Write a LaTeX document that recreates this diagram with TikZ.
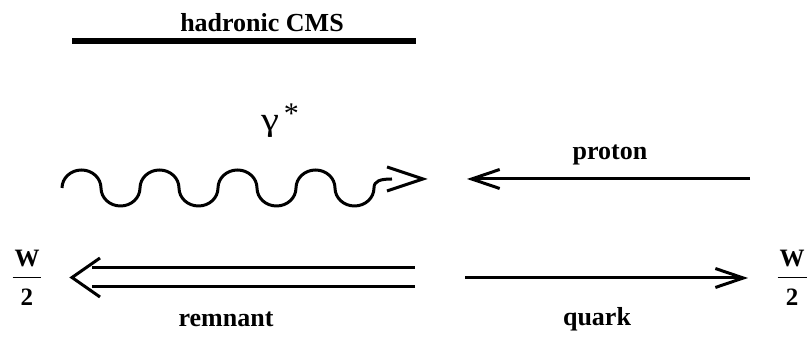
\documentclass[tikz,border=0pt]{standalone}
\usepackage{amsmath}
\usepackage{fontspec}
\setmainfont{Liberation Serif}
\usetikzlibrary{arrows.meta, positioning}

\newcommand{\halfW}{$\dfrac{\makebox[14.5pt]{\bfseries W}}{\rule{0pt}{12.3pt}\mbox{\bfseries 2}}$}

\begin{document}
\begin{tikzpicture}[x=0.5pt, y=-0.5pt,
  lbl/.style={font=\fontsize{13}{15}\selectfont\bfseries, inner sep=0pt, anchor=base},
  gam/.style={font=\fontsize{15}{17}\selectfont, inner sep=0pt, anchor=base},
  frc/.style={font=\fontsize{12.5}{14}\selectfont, inner sep=0pt, anchor=base},
  prt/.style={line width=1.5pt, draw=black},
  arr/.style={prt, -{Straight Barb[length=14pt, width=9.5pt]}},
  dbl/.style={prt, double, double distance=8pt}
]
  \useasboundingbox (0,0) rectangle (808,340);

  % ========== hadronic CMS ==========
  \node[lbl] (cms) at (262,32) {hadronic CMS};
  \coordinate (cmsL) at (72,41);
  \coordinate (cmsR) at (416,41);
  \draw[line width=3.2pt] (cmsL) -- (cmsR);

  % ========== photon ==========
  \coordinate (phS) at (62,188);
  \coordinate (phE) at (423,179);
  \draw[prt] (phS) \foreach \k in {1,...,4}{
      arc[start angle=180, end angle=0, x radius=9.75pt, y radius=9pt]
      arc[start angle=180, end angle=360, x radius=9.75pt, y radius=9pt]}
    .. controls (374,181) and (380,179) .. (392,179);
  \draw[prt] ([shift={(-36,-12)}]phE) -- (phE) -- ([shift={(-36,12)}]phE);
  \node[gam] (gstar) at (280,131) {\scalebox{1.35}[1.1]{γ}\,\raisebox{3.5pt}{*}};

  % ========== proton ==========
  \coordinate (pS) at (750,179);
  \coordinate (pE) at (467,179);
  \draw[arr] (pS) -- (pE);
  \node[lbl] (prot) at (610,160) {proton};

  % ========== remnant ==========
  \coordinate (rS) at (415,277.5);
  \coordinate (rE) at (92,277.5);
  \coordinate (rT) at (72,277.5);
  \draw[dbl] (rS) -- (rE);
  \draw[prt] ([shift={(28,-19.5)}]rT) -- (rT) -- ([shift={(28,19.5)}]rT);
  \node[lbl] (rem) at (226,327) {remnant};

  % ========== quark ==========
  \coordinate (qS) at (465,278);
  \coordinate (qE) at (748,278);
  \draw[arr] (qS) -- (qE);
  \node[lbl] (qrk) at (597,326) {quark};

  % ========== W/2 ==========
  \node[frc] (wL) at (27,283.2) {\halfW};
  \node[frc] (wR) at (792,283.2) {\halfW};

\end{tikzpicture}
\end{document}
